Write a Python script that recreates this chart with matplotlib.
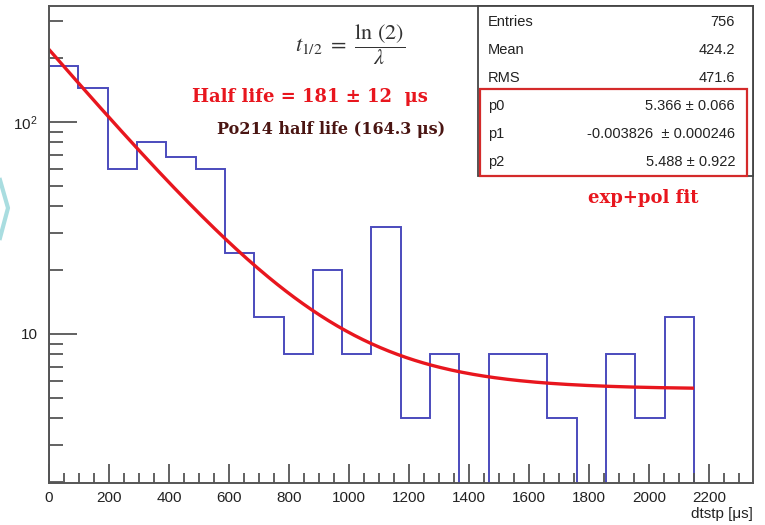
import numpy as np
import matplotlib
matplotlib.use('Agg')
import matplotlib.pyplot as plt
from matplotlib.ticker import MultipleLocator, LogLocator, NullFormatter, FuncFormatter
from matplotlib.lines import Line2D
from matplotlib.patches import Rectangle

# histogram data (counts per bin)
bin_edges = np.linspace(0, 2150, 23)
counts = [184, 144, 60, 80, 68, 60, 24, 12, 8, 20, 8, 32,
          4, 8, 0, 8, 8, 4, 0, 8, 4, 12]

# fit parameters: exp(p0 + p1*x) + p2
p0, p1, p2 = 5.366, -0.003826, 5.488
stat_names = ["Entries", "Mean", "RMS"]
stat_vals = ["756", "424.2", "471.6"]
par_names = ["p0", "p1", "p2"]
par_vals = ["5.366 \u00b1 0.066", "-0.003826  \u00b1 0.000246", "5.488 \u00b1 0.922"]

plt.rcParams['font.family'] = ['Liberation Sans', 'DejaVu Sans']
plt.rcParams['mathtext.fontset'] = 'custom'
plt.rcParams['mathtext.rm'] = 'Liberation Sans'
plt.rcParams['mathtext.it'] = 'Liberation Sans:italic'

fig = plt.figure(figsize=(7.65, 5.25), dpi=100)
ax = fig.add_axes([49/765, 1-483/525, (753-49)/765, (483-6)/525])

ax.stairs(counts, bin_edges, baseline=0.5, color='#4b4bbd', lw=1.4)
xf = np.linspace(0, 2145, 300)
ax.plot(xf, np.exp(p0 + p1*xf) + p2, color='#e8161e', lw=2.4)

ax.set_yscale('log')
ax.set_xlim(0, 2347)
ax.set_ylim(1.98, 352)

def ylab(v, pos):
    if abs(v - 10) < 1e-6:
        return '10'
    if abs(v - 100) < 1e-6:
        return '$10^{2}$'
    return ''

ax.xaxis.set_major_locator(MultipleLocator(200))
ax.xaxis.set_minor_locator(MultipleLocator(50))
ax.yaxis.set_major_locator(LogLocator(base=10, numticks=5))
ax.yaxis.set_major_formatter(FuncFormatter(ylab))
ax.yaxis.set_minor_locator(LogLocator(base=10, subs=np.arange(2, 10), numticks=20))
ax.yaxis.set_minor_formatter(NullFormatter())
ax.tick_params(which='both', direction='in', colors='#555555', labelcolor='#222222',
               labelsize=11, width=1.3)
ax.tick_params(axis='x', which='major', length=14, pad=6)
ax.tick_params(axis='x', which='minor', length=7)
ax.tick_params(axis='y', which='major', length=20, pad=8)
ax.tick_params(axis='y', which='minor', length=10)
ax.tick_params(top=False, right=False)
for s in ax.spines.values():
    s.set_color('#555555')
    s.set_linewidth(1.4)

fig.text(753/765, 1-514/525, "dtstp [\u03bcs]", ha='right', va='center',
         fontsize=11, color='#222222')

# annotations
fig.text(350/765, 1-45/525, r'$t_{1/2}\ =\ \dfrac{\mathrm{ln}\ (2)}{\lambda}$', ha='center',
         va='center', fontsize=16, color='#333333', math_fontfamily='stix')
fig.text(310/765, 1-97/525, "Half life = 181 \u00b1 12  \u03bcs", ha='center', va='center',
         fontsize=13, fontweight='bold', family='DejaVu Serif', color='#e8161e')
fig.text(331/765, 1-130/525, "Po214 half life (164.3 \u03bcs)", ha='center', va='center',
         fontsize=11.5, fontweight='bold', family='DejaVu Serif', color='#4a1512')
fig.text(643/765, 1-198/525, "exp+pol fit", ha='center', va='center',
         fontsize=13, fontweight='bold', family='DejaVu Serif', color='#e8161e')

# stats box
fig.patches.append(Rectangle((478/765, 1-176/525), (753-478)/765, (176-6)/525,
                             transform=fig.transFigure, fc='white', ec='#444444', lw=1.3))
fig.patches.append(Rectangle((480/765, 1-176/525), (747-480)/765, (176-89)/525,
                             transform=fig.transFigure, fc='none', ec='#d42a2a', lw=1.6))
rows_y = [22, 50, 78, 106, 134, 162]
for i, (n, v) in enumerate(zip(stat_names + par_names, stat_vals + par_vals)):
    fig.text(488/765, 1-rows_y[i]/525, n, ha='left', va='center', fontsize=10.5, color='#222222')
    fig.text(735/765, 1-rows_y[i]/525, v, ha='right', va='center', fontsize=10.5, color='#222222')

# slide decoration on left edge
fig.lines.append(Line2D([0, 8/765, 0], [1-180/525, 1-208/525, 1-238/525],
                        transform=fig.transFigure, color='#a9dde0', lw=3))

fig.savefig('out.png', dpi=100)
